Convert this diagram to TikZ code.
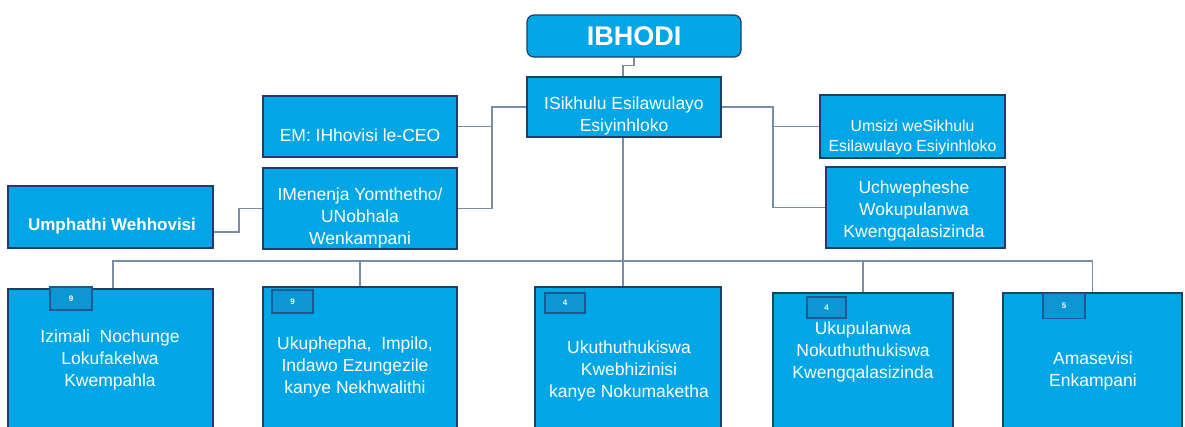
\documentclass[tikz,border=0pt]{standalone}
\usepackage{fontspec}
\setmainfont{Liberation Sans}
\usetikzlibrary{calc}
\definecolor{boxblue}{RGB}{0,166,230}
\definecolor{boxedge}{RGB}{30,62,100}
\definecolor{linecol}{RGB}{125,140,165}
\definecolor{badgefill}{RGB}{12,150,212}
\definecolor{badgeedge}{RGB}{25,90,145}
\tikzset{
  orgbox/.style={draw=boxedge, line width=1.2pt, fill=boxblue, inner sep=0pt},
  lbl/.style={text=white, align=center, font=\fontsize{17.5}{22}\selectfont, inner sep=0pt},
  conn/.style={draw=linecol, line width=1.5pt},
  badge/.style={draw=badgeedge, line width=1.2pt, fill=badgefill, text=white,
    font=\fontsize{8}{9}\selectfont\bfseries, inner sep=0pt},
}
\begin{document}
\begin{tikzpicture}[x=1pt,y=-1pt]
\clip (0,0) rectangle (1185,426);
\fill[white] (0,0) rectangle (1185,426);

% top level
\node[orgbox, rounded corners=7pt, minimum width=214pt, minimum height=42pt] (ib) at (634,36) {};
\node[lbl, font=\fontsize{27}{30}\selectfont\bfseries] (ibt) at (634,36) {IBHODI};

\node[orgbox, minimum width=194pt, minimum height=60pt] (ceo) at (624,107) {};
\node[lbl] (ceot) at (624,116) {ISikhulu Esilawulayo\\Esiyinhloko};

% left side
\node[orgbox, minimum width=194pt, minimum height=61pt] (em) at (360,126.5) {};
\node[lbl] (emt) at (360,135) {EM: IHhovisi le-CEO};

\node[orgbox, minimum width=194pt, minimum height=81pt] (men) at (360,208.5) {};
\node[lbl] (ment) at (360,218) {IMenenja Yomthetho/\\UNobhala\\Wenkampani};

\node[orgbox, minimum width=205pt, minimum height=62pt] (umph) at (110.5,217) {};
\node[lbl, font=\fontsize{17}{22}\selectfont\bfseries] (umpht) at (112,226) {Umphathi Wehhovisi};

% right side
\node[orgbox, minimum width=185pt, minimum height=63pt] (ums) at (912.5,126.5) {};
\node[lbl, font=\fontsize{15.8}{20}\selectfont] (umst) at (912.5,137) {Umsizi weSikhulu\\Esilawulayo Esiyinhloko};

\node[orgbox, minimum width=179pt, minimum height=81pt] (uch) at (915.5,207.5) {};
\node[lbl] (ucht) at (914,211) {Uchwepheshe\\Wokupulanwa\\Kwengqalasizinda};

% bottom row
\node[orgbox, minimum width=205pt, minimum height=143pt] (b1) at (110.5,360.5) {};
\node[lbl] (b1t) at (110,360) {Izimali\ \ Nochunge\\Lokufakelwa\\Kwempahla};
\node[badge, minimum width=42pt, minimum height=23pt] (b1b) at (71,298.5) {9};

\node[orgbox, minimum width=194pt, minimum height=145pt] (b2) at (360,359.5) {};
\node[lbl] (b2t) at (355,367) {Ukuphepha,\ \ Impilo,\\Indawo Ezungezile\\kanye Nekhwalithi};
\node[badge, minimum width=41pt, minimum height=23pt] (b2b) at (292.5,301.5) {9};

\node[orgbox, minimum width=186pt, minimum height=145pt] (b3) at (628,359.5) {};
\node[lbl] (b3t) at (629,371) {Ukuthuthukiswa\\Kwebhizinisi\\kanye Nokumaketha};
\node[badge, minimum width=40pt, minimum height=20pt] (b3b) at (565,303) {4};

\node[orgbox, minimum width=180pt, minimum height=139pt] (b4) at (863,362.5) {};
\node[lbl] (b4t) at (863,352) {Ukupulanwa\\Nokuthuthukiswa\\Kwengqalasizinda};
\node[badge, minimum width=39pt, minimum height=21pt] (b4b) at (826.5,307.5) {4};

\node[orgbox, minimum width=179pt, minimum height=139pt] (b5) at (1092.5,362.5) {};
\node[lbl] (b5t) at (1093,371) {Amasevisi\\Enkampani};
\node[badge, minimum width=42pt, minimum height=25pt] (b5b) at (1064,306) {5};

% connectors
\draw[conn] (ib.south) -- ++(0,8) -| ([xshift=-1pt]ceo.north);

\coordinate (lj) at (492,107);
\draw[conn] (ceo.west) -- (lj) |- (em.east);
\draw[conn] (lj) |- (men.east);

\coordinate (rj) at (773,107);
\draw[conn] (ceo.east) -- (rj) |- (ums.west);
\draw[conn] (rj) |- (uch.west);

\coordinate (uj) at (239,232);
\draw[conn] ([yshift=-15pt]umph.east) -- (uj) |- (men.west);

\coordinate (bus) at (623,261);
\draw[conn] ([xshift=-1pt]ceo.south) -- (bus);
\draw[conn] ([xshift=2.5pt]b1.north) |- (bus);
\draw[conn] (bus) -| (b5.north);
\draw[conn] (b2.north) -- (b2.north |- bus);
\draw[conn] ([xshift=-5pt]b3.north) -- ([xshift=-5pt]b3.north |- bus);
\draw[conn] (b4.north) -- (b4.north |- bus);
\end{tikzpicture}
\end{document}
